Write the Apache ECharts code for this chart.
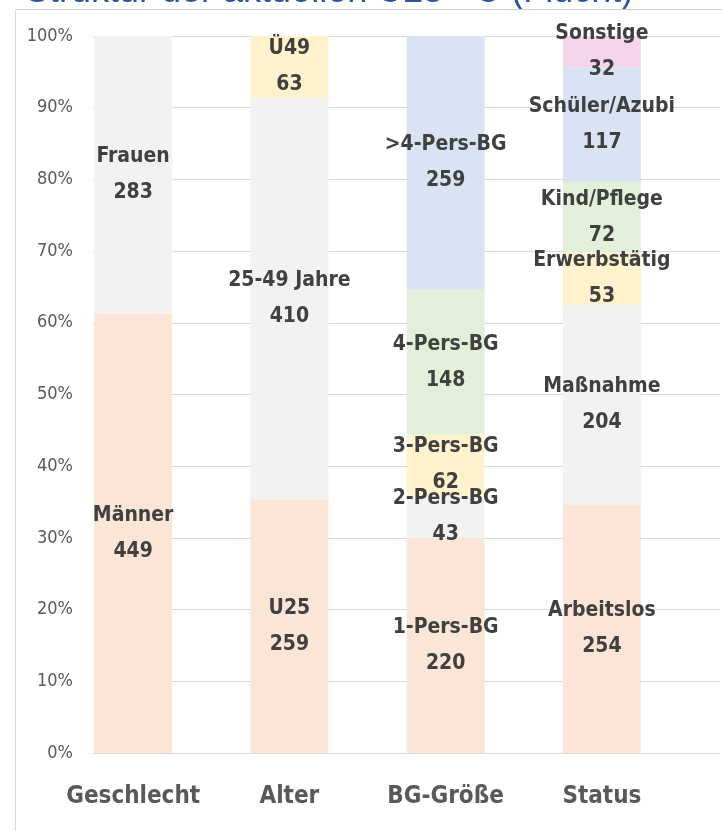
<!DOCTYPE html>
<html>
<head>
<meta charset="utf-8">
<script src="https://cdn.jsdelivr.net/npm/echarts@6/dist/echarts.min.js"></script>
<style>
html,body{margin:0;padding:0;background:#fff;}
#chart{width:722px;height:831px;}
</style>
</head>
<body>
<div id="chart"></div>
<script>
const titleText = 'Struktur der aktuellen U25 - U (Flucht)';
const categories = ['Geschlecht', 'Alter', 'BG-Größe', 'Status'];

const geschlechtNames = ['Männer', 'Frauen'];
const geschlechtValues = [449, 283];
const alterNames = ['U25', '25-49 Jahre', 'Ü49'];
const alterValues = [259, 410, 63];
const bgNames = ['1-Pers-BG', '2-Pers-BG', '3-Pers-BG', '4-Pers-BG', '>4-Pers-BG'];
const bgValues = [220, 43, 62, 148, 259];
const statusNames = ['Arbeitslos', 'Maßnahme', 'Erwerbstätig', 'Kind/Pflege', 'Schüler/Azubi', 'Sonstige'];
const statusValues = [254, 204, 53, 72, 117, 32];

const yTickValues = [0, 10, 20, 30, 40, 50, 60, 70, 80, 90, 100];

const levelColors = ['#fbe5d6', '#f2f2f2', '#fff2cc', '#e2f0d9', '#dae3f3', '#f5d5ec'];

const groups = [
  [geschlechtNames, geschlechtValues],
  [alterNames, alterValues],
  [bgNames, bgValues],
  [statusNames, statusValues]
];

const labelFont = "'Liberation Sans Narrow', 'DejaVu Sans Condensed', 'Arial Narrow', sans-serif";

const maxLevels = Math.max(...groups.map(g => g[0].length));
const series = [];
for (let lvl = 0; lvl < maxLevels; lvl++) {
  const data = groups.map(([names, vals]) => {
    if (lvl >= vals.length) return { value: '-' };
    const total = vals.reduce((a, b) => a + b, 0);
    return { value: vals[lvl] / total * 100, segName: names[lvl], raw: vals[lvl] };
  });
  series.push({
    type: 'bar',
    stack: 'all',
    xAxisIndex: 0,
    yAxisIndex: 0,
    barWidth: 78,
    itemStyle: { color: levelColors[lvl] },
    label: {
      show: true,
      position: 'inside',
      color: '#404040',
      fontFamily: labelFont,
      fontWeight: 'bold',
      fontSize: 21,
      lineHeight: 36,
      formatter: p => p.data.segName ? p.data.segName + '\n' + p.data.raw : ''
    },
    emphasis: { disabled: true },
    data: data
  });
}

const chart = echarts.init(document.getElementById('chart'), null, { renderer: 'canvas' });
chart.setOption({
  animation: false,
  title: {
    text: titleText,
    left: 25,
    top: -28,
    padding: 0,
    textStyle: { color: '#2f5597', fontSize: 36, fontWeight: 'normal', fontFamily: "'Liberation Sans', Arial, sans-serif", lineHeight: 40 }
  },
  graphic: [
    { type: 'line', shape: { x1: 15, y1: 9.5, x2: 722, y2: 9.5 }, style: { stroke: '#c9d0dc', lineWidth: 1 }, z: 100 },
    { type: 'line', shape: { x1: 15.5, y1: 9, x2: 15.5, y2: 831 }, style: { stroke: '#d9d9d9', lineWidth: 1 }, z: 100 }
  ],
  grid: [
    { left: 55, right: 42, top: 36, bottom: 78 },
    { left: 93, right: 2, top: 36, bottom: 78 }
  ],
  xAxis: [
    {
      type: 'category', gridIndex: 0, data: categories,
      axisLine: { show: false }, axisTick: { show: false },
      axisLabel: { interval: 0, color: '#595959', fontSize: 24, fontWeight: 'bold', fontFamily: labelFont, margin: 32 }
    },
    { type: 'category', gridIndex: 1, data: categories, show: false }
  ],
  yAxis: [
    { type: 'value', gridIndex: 0, min: 0, max: 100, interval: 10, show: false },
    {
      type: 'value', gridIndex: 1, min: yTickValues[0], max: yTickValues[yTickValues.length - 1], interval: 10,
      axisLine: { show: false }, axisTick: { show: false },
      splitLine: { show: true, lineStyle: { color: '#d9d9d9', width: 1 } },
      axisLabel: { color: '#595959', fontSize: 18, fontFamily: labelFont, margin: 20, formatter: '{value}%' }
    }
  ],
  series: series
});
</script>
</body>
</html>
